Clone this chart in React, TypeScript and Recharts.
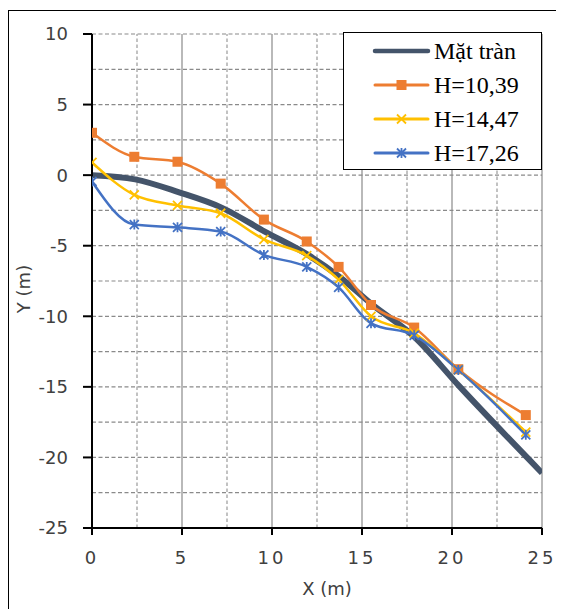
import React from "react";
import {
  LineChart,
  Line,
  XAxis,
  YAxis,
  ReferenceLine,
  Legend,
  Label,
} from "recharts";

// Crest profile (Mặt tràn)
const xCrest = [0, 2.4, 4.8, 7.2, 9.6, 12, 13.7, 15.5, 17.9, 20.4, 25];
const yCrest = [0, -0.3, -1.2, -2.3, -4.0, -5.65, -7.15, -9.1, -11.45, -14.95, -21.1];

// Measured jet profiles, same stations for all three heads
const xMeasured = [0, 2.35, 4.75, 7.15, 9.55, 11.93, 13.7, 15.5, 17.9, 20.35, 24.1];
const yH1039 = [3.0, 1.3, 0.95, -0.6, -3.15, -4.7, -6.5, -9.2, -10.8, -13.75, -17.0];
const yH1447 = [0.9, -1.4, -2.15, -2.7, -4.55, -5.7, -7.4, -10.0, -11.2, -13.8, -18.2];
const yH1726 = [-0.45, -3.5, -3.7, -4.0, -5.65, -6.5, -7.95, -10.5, -11.35, -13.8, -18.4];

const xTicks = [0, 5, 10, 15, 20, 25];
const yTicks = [-25, -20, -15, -10, -5, 0, 5, 10];
const xMinor = [2.5, 7.5, 12.5, 17.5, 22.5];
const yGrid = [-22.5, -20, -17.5, -15, -12.5, -10, -7.5, -5, -2.5, 0, 2.5, 5, 7.5, 10];

const toPoints = (xs: number[], ys: number[]) =>
  xs.map((x, i) => ({ x, y: ys[i] }));

const series = [
  { name: "Mặt tràn", color: "#44546A", width: 6, marker: "none", data: toPoints(xCrest, yCrest) },
  { name: "H=10,39", color: "#ED7D31", width: 2.5, marker: "square", data: toPoints(xMeasured, yH1039) },
  { name: "H=14,47", color: "#FFC000", width: 2.5, marker: "cross", data: toPoints(xMeasured, yH1447) },
  { name: "H=17,26", color: "#4472C4", width: 2.5, marker: "star", data: toPoints(xMeasured, yH1726) },
];

const Marker = ({ type, cx, cy, color }: { type: string; cx: number; cy: number; color: string }) => {
  if (type === "square") {
    return <rect x={cx - 5} y={cy - 5} width={10} height={10} fill={color} />;
  }
  if (type === "cross") {
    return (
      <path
        d={`M${cx - 4.5},${cy - 4.5}L${cx + 4.5},${cy + 4.5}M${cx - 4.5},${cy + 4.5}L${cx + 4.5},${cy - 4.5}`}
        stroke={color}
        strokeWidth={1.8}
      />
    );
  }
  if (type === "star") {
    return (
      <path
        d={`M${cx - 4.5},${cy - 4.5}L${cx + 4.5},${cy + 4.5}M${cx - 4.5},${cy + 4.5}L${cx + 4.5},${cy - 4.5}M${cx},${cy - 5}L${cx},${cy + 5}`}
        stroke={color}
        strokeWidth={1.8}
      />
    );
  }
  return null;
};

const makeDot = (type: string, color: string) => (props: any) => {
  const { cx, cy, index } = props;
  if (type === "none" || cx == null || cy == null) return <g key={`d-${index}`} />;
  return (
    <g key={`d-${type}-${index}`}>
      <Marker type={type} cx={cx} cy={cy} color={color} />
    </g>
  );
};

const LegendBox = () => (
  <div
    style={{
      width: 199,
      height: 138,
      border: "1.5px solid #000",
      background: "#fff",
      boxSizing: "border-box",
      paddingTop: 1,
    }}
  >
    {series.map((s) => (
      <div key={s.name} style={{ display: "flex", alignItems: "center", height: 34 }}>
        <svg width={90} height={20} style={{ flexShrink: 0 }}>
          <line x1={31} y1={10} x2={84} y2={10} stroke={s.color} strokeWidth={s.marker === "none" ? 4.5 : 3} strokeLinecap="round" />
          <Marker type={s.marker} cx={57.5} cy={10} color={s.color} />
        </svg>
        <span
          style={{
            fontFamily: "'Liberation Serif', 'Times New Roman', serif",
            fontSize: 24,
            color: "#000",
            lineHeight: "24px",
          }}
        >
          {s.name}
        </span>
      </div>
    ))}
  </div>
);

const tickStyle = { fill: "#404040", fontSize: 18, fontFamily: "'DejaVu Sans', sans-serif" };

export default function App() {
  return (
    <div style={{ position: "relative", width: 556, height: 601, overflow: "hidden" }}>
      <div
        style={{
          position: "absolute",
          top: 2,
          left: 0,
          width: 600,
          height: 640,
          borderTop: "1.5px solid #000",
          borderLeft: "1.5px solid #000",
        }}
      />
      <LineChart
        width={556}
        height={601}
        margin={{ top: 26, right: 22, left: 0, bottom: 0 }}
        style={{ position: "absolute", top: 0, left: 0 }}
      >
        {yGrid.map((v) => (
          <ReferenceLine key={`h${v}`} y={v} stroke="#8a8a8a" strokeWidth={1.2} strokeDasharray="4 2.5" />
        ))}
        {xMinor.map((v) => (
          <ReferenceLine key={`vm${v}`} x={v} stroke="#9a9a9a" strokeWidth={1.2} strokeDasharray="3.5 2.5" />
        ))}
        {xTicks.slice(1).map((v) => (
          <ReferenceLine key={`vM${v}`} x={v} stroke="#8a8a8a" strokeWidth={1.2} />
        ))}
        <XAxis
          type="number"
          dataKey="x"
          domain={[0, 25]}
          ticks={xTicks}
          allowDataOverflow
          height={81}
          tickSize={7}
          tickMargin={16}
          tick={{ ...tickStyle, letterSpacing: 3 } as any}
          axisLine={{ stroke: "#000", strokeWidth: 2 }}
          tickLine={{ stroke: "#000", strokeWidth: 2 }}
        >
          <Label
            value="X (m)"
            position="insideBottom"
            offset={14}
            dx={10}
            style={{ fill: "#404040", fontSize: 18, fontFamily: "'DejaVu Sans', sans-serif" }}
          />
        </XAxis>
        <YAxis
          type="number"
          dataKey="y"
          domain={[-25, 10]}
          ticks={yTicks}
          allowDataOverflow
          width={84}
          tickSize={9}
          tickMargin={15}
          tick={tickStyle}
          axisLine={{ stroke: "#000", strokeWidth: 2 }}
          tickLine={{ stroke: "#000", strokeWidth: 2 }}
        >
          <Label
            value="Y (m)"
            angle={-90}
            position="insideLeft"
            offset={16}
            dy={8}
            style={{ fill: "#404040", fontSize: 18, fontFamily: "'DejaVu Sans', sans-serif", textAnchor: "middle" }}
          />
        </YAxis>
        {series.map((s) => (
          <Line
            key={s.name}
            data={s.data}
            dataKey="y"
            name={s.name}
            type="monotone"
            stroke={s.color}
            strokeWidth={s.width}
            dot={makeDot(s.marker, s.color)}
            activeDot={false}
            isAnimationActive={false}
          />
        ))}
        <Legend
          layout="vertical"
          verticalAlign="middle"
          align="center"
          content={() => <LegendBox />}
          wrapperStyle={{ top: 24, left: 335, width: 199 }}
        />
      </LineChart>
    </div>
  );
}
